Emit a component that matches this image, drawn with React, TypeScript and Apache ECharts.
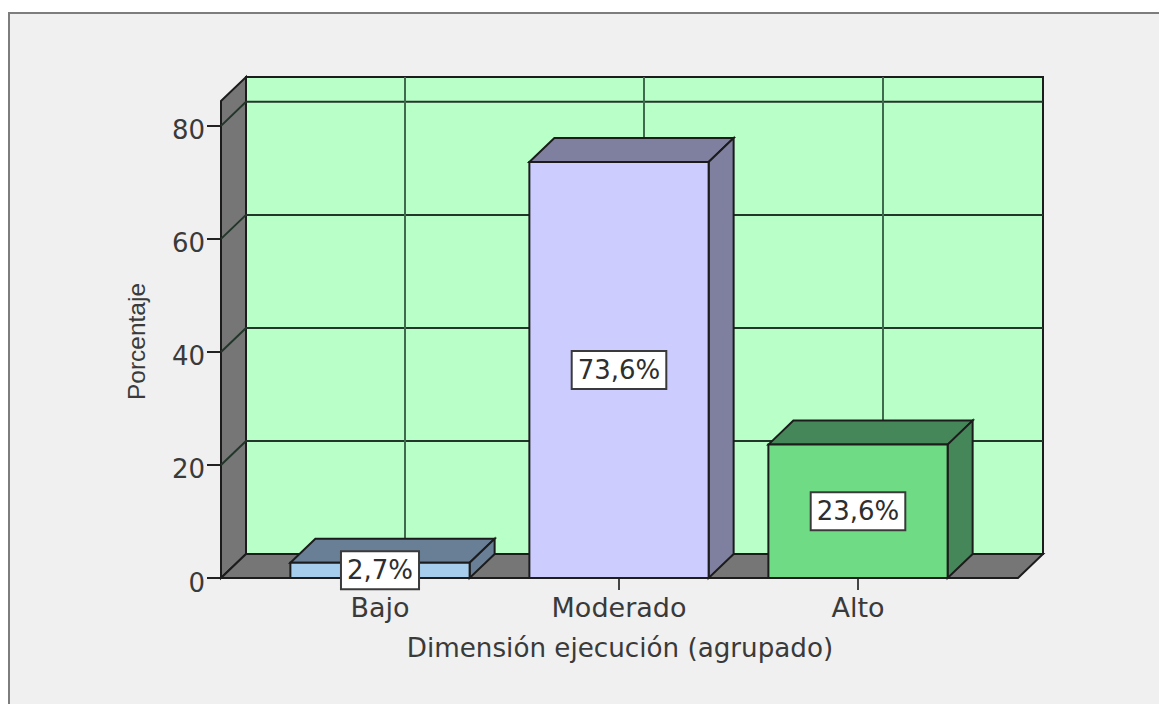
import React, { useEffect, useRef } from "react";
import * as echarts from "echarts";

const categories = ["Bajo", "Moderado", "Alto"];
const percentages = [2.7, 73.6, 23.6];
const percentageLabels = ["2,7%", "73,6%", "23,6%"];
const yTicks = [0, 20, 40, 60, 80];
const gridValues = [20, 40, 60, 80];
const yMax = 84.4;
const frontColors = ["#a6cdeb", "#ccccff", "#70db85"];
const shadeColors = ["#687f96", "#7f7fa0", "#46875a"];

const DX = 25;
const DY = 24;
const PAD_L = 39.5;
const PAD_R = 40.5;
const EDGE = "#1c1c1c";
const FONT = "'DejaVu Sans'";
const TEXT = "#3a3a3a";

export default function App() {
  const ref = useRef<HTMLDivElement>(null);
  useEffect(() => {
    document.body.style.margin = "0";
    document.body.style.background = "#fff";
    const chart = echarts.init(ref.current!, null, { renderer: "svg" });
    const edge = { stroke: EDGE, lineWidth: 2 };

    const wallsItem = (params: any, api: any) => {
      const cs = params.coordSys;
      const l = cs.x - PAD_L;
      const r = cs.x + cs.width + PAD_R;
      const b = api.coord([0, 0])[1];
      const t = api.coord([0, api.value(1)])[1];
      return {
        type: "group",
        children: [
          { type: "rect", shape: { x: l + DX, y: t - DY, width: r - l, height: b - t }, style: { fill: "#b8ffc8", ...edge } },
          { type: "polygon", shape: { points: [[l, t], [l + DX, t - DY], [l + DX, b - DY], [l, b]] }, style: { fill: "#767676", ...edge } },
          { type: "polygon", shape: { points: [[l, b], [l + DX, b - DY], [r + DX, b - DY], [r, b]] }, style: { fill: "#767676", ...edge } },
        ],
      };
    };

    const gridItem = (params: any, api: any) => {
      const cs = params.coordSys;
      const l = cs.x - PAD_L;
      const r = cs.x + cs.width + PAD_R;
      const y = api.coord([0, api.value(1)])[1];
      return {
        type: "polyline",
        shape: { points: [[l, y], [l + DX, y - DY], [r + DX, y - DY]] },
        style: { fill: "none", stroke: "#22362a", lineWidth: 2 },
      };
    };

    const verticalItem = (params: any, api: any) => {
      const x = api.coord([api.value(0), 0])[0] + DX;
      const t = api.coord([0, yMax])[1] - DY;
      const b = api.coord([0, 0])[1] - DY;
      return { type: "line", shape: { x1: x, y1: t, x2: x, y2: b }, style: { stroke: "#3f6a4e", lineWidth: 2 } };
    };

    const barItem = (params: any, api: any) => {
      const i = api.value(0);
      const [cx, top] = api.coord([i, api.value(1)]);
      const bottom = api.coord([i, 0])[1];
      const w = api.size([1, 0])[0] * 0.75;
      const x0 = cx - w / 2;
      const x1 = cx + w / 2;
      return {
        type: "group",
        children: [
          { type: "polygon", shape: { points: [[x0, top], [x0 + DX, top - DY], [x1 + DX, top - DY], [x1, top]] }, style: { fill: shadeColors[i], ...edge } },
          { type: "polygon", shape: { points: [[x1, top], [x1 + DX, top - DY], [x1 + DX, bottom - DY], [x1, bottom]] }, style: { fill: shadeColors[i], ...edge } },
          { type: "rect", shape: { x: x0, y: top, width: w, height: bottom - top }, style: { fill: frontColors[i], ...edge } },
          {
            type: "text",
            style: {
              text: percentageLabels[i],
              x: cx,
              y: (top + bottom) / 2,
              align: "center",
              verticalAlign: "middle",
              font: `26px ${FONT}`,
              fill: "#2e2e2e",
              backgroundColor: "#ffffff",
              borderColor: "#3a3a3a",
              borderWidth: 2,
              padding: [5, 5, 5, 5],
            },
          },
        ],
      };
    };

    chart.setOption({
      animation: false,
      backgroundColor: "transparent",
      grid: { left: 260.5, width: 717, top: 101, bottom: 126, containLabel: false },
      xAxis: {
        type: "category",
        data: categories,
        name: "Dimensión ejecución (agrupado)",
        nameLocation: "middle",
        nameGap: 57,
        nameTextStyle: { fontFamily: FONT, fontSize: 26.2, color: TEXT, padding: [0, 0, 0, 2] },
        axisLine: { show: false },
        axisTick: { show: true, alignWithLabel: true, length: 12, lineStyle: { color: "#444", width: 2 } },
        axisLabel: { fontFamily: FONT, fontSize: 27, color: TEXT, margin: 16, interval: 0 },
        splitLine: { show: false },
      },
      yAxis: {
        type: "value",
        min: 0,
        max: yMax,
        interval: 20,
        offset: 39.5,
        name: "Porcentaje",
        nameLocation: "middle",
        nameGap: 72,
        nameTextStyle: { fontFamily: "'Liberation Sans'", fontSize: 24.5, color: TEXT, padding: [0, 4, 0, 0] },
        axisLine: { show: false },
        axisTick: { show: true, length: 14, customValues: yTicks, lineStyle: { color: "#222", width: 2 } },
        axisLabel: { fontFamily: FONT, fontSize: 26, color: TEXT, margin: 16, verticalAlign: "top", lineHeight: 9, customValues: yTicks, formatter: (v: number) => String(v) },
        splitLine: { show: false },
      },
      series: [
        { type: "custom", z: 1, renderItem: wallsItem, encode: { x: 0, y: 1 }, data: [[0, yMax]], silent: true },
        { type: "custom", z: 2, renderItem: gridItem, encode: { x: 0, y: 1 }, data: gridValues.map((v) => [0, v]), silent: true },
        { type: "custom", z: 2, renderItem: verticalItem, encode: { x: 0, y: 1 }, data: categories.map((_, i) => [i, 0]), silent: true },
        { type: "custom", z: 3, renderItem: barItem, encode: { x: 0, y: 1 }, data: percentages.map((v, i) => [i, v]), silent: true },
      ],
    });
    return () => chart.dispose();
  }, []);

  return (
    <div style={{ position: "relative", width: 1159, height: 704, overflow: "hidden", background: "#fff" }}>
      <div style={{ position: "absolute", left: 8, top: 12, width: 1200, height: 800, background: "#f0f0f0", border: "2px solid #7d7d7d" }} />
      <div ref={ref} style={{ position: "absolute", left: 0, top: 0, width: 1159, height: 704 }} />
    </div>
  );
}
